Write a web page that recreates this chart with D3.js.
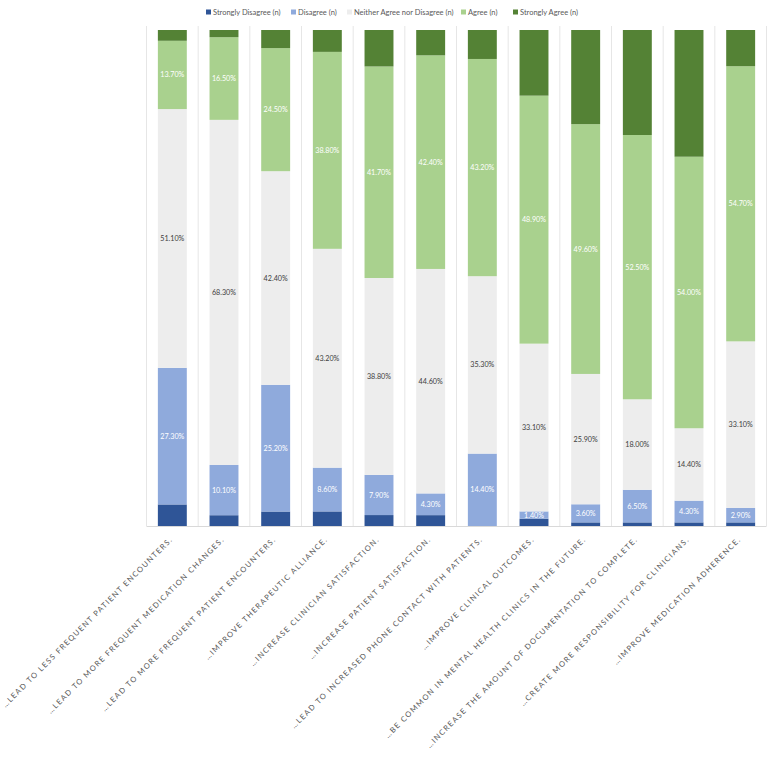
<!DOCTYPE html>
<html>
<head>
<meta charset="utf-8">
<script src="https://cdn.jsdelivr.net/npm/d3@7"></script>
<style>
  html, body { margin: 0; padding: 0; background: #fff; }
  svg { display: block; font-family: Lato, "Open Sans", "Liberation Sans", sans-serif; }
</style>
</head>
<body>
<svg id="chart" width="778" height="758"></svg>
<script>
const categories = [
  "…LEAD TO LESS FREQUENT PATIENT ENCOUNTERS.",
  "…LEAD TO MORE FREQUENT MEDICATION CHANGES.",
  "…LEAD TO MORE FREQUENT PATIENT ENCOUNTERS.",
  "…IMPROVE THERAPEUTIC ALLIANCE.",
  "…INCREASE CLINICIAN SATISFACTION.",
  "…INCREASE PATIENT SATISFACTION.",
  "…LEAD TO INCREASED PHONE CONTACT WITH PATIENTS.",
  "…IMPROVE CLINICAL OUTCOMES.",
  "…BE COMMON IN MENTAL HEALTH CLINICS IN THE FUTURE.",
  "…INCREASE THE AMOUNT OF DOCUMENTATION TO COMPLETE.",
  "…CREATE MORE RESPONSIBILITY FOR CLINICIANS.",
  "…IMPROVE MEDICATION ADHERENCE."
];
const seriesNames = ["Strongly Disagree (n)", "Disagree (n)", "Neither Agree nor Disagree (n)", "Agree (n)", "Strongly Agree (n)"];
// counts (n)
const stronglyDisagree = [6, 3, 4, 4, 3, 3, 0, 2, 1, 1, 1, 1];
const disagree         = [38, 14, 35, 12, 11, 6, 20, 2, 5, 9, 6, 4];
const neither          = [72, 96, 59, 60, 54, 62, 49, 46, 36, 25, 20, 46];
const agree            = [19, 23, 34, 54, 58, 59, 60, 68, 69, 73, 75, 76];
const stronglyAgree    = [3, 2, 5, 6, 10, 7, 8, 18, 26, 29, 35, 10];
// data labels (percent)
const disagreePct = [27.3, 10.1, 25.2, 8.6, 7.9, 4.3, 14.4, 1.4, 3.6, 6.5, 4.3, 2.9];
const neitherPct  = [51.1, 68.3, 42.4, 43.2, 38.8, 44.6, 35.3, 33.1, 25.9, 18.0, 14.4, 33.1];
const agreePct    = [13.7, 16.5, 24.5, 38.8, 41.7, 42.4, 43.2, 48.9, 49.6, 52.5, 54.0, 54.7];

const colors = ["#2F5597", "#8FAADC", "#EDEDED", "#A9D18E", "#548235"];
const labelColors = [null, "#ffffff", "#404040", "#ffffff", null];
const seriesVals = [stronglyDisagree, disagree, neither, agree, stronglyAgree];
const seriesPct = [null, disagreePct, neitherPct, agreePct, null];

const rows = categories.map((c, i) => {
  const r = { cat: c, i };
  seriesNames.forEach((s, k) => r[s] = seriesVals[k][i]);
  return r;
});
const stacked = d3.stack().keys(seriesNames).offset(d3.stackOffsetExpand)(rows);

const svg = d3.select("#chart");
const plotLeft = 146.5, plotRight = 766.5, plotTop = 30, plotBottom = 526;

const x = d3.scaleBand().domain(categories).range([plotLeft, plotRight]).paddingInner(0.44).paddingOuter(0.22);
const y = d3.scaleLinear().domain([0, 1]).range([plotBottom, plotTop]);

// vertical gridlines at category boundaries
const boundaries = d3.range(categories.length + 1).map(i => plotLeft + i * (plotRight - plotLeft) / categories.length);
svg.append("g").selectAll("line").data(boundaries).join("line")
  .attr("x1", d => d).attr("x2", d => d)
  .attr("y1", 26).attr("y2", plotBottom)
  .attr("stroke", "#e6e6e6").attr("stroke-width", 1);

// bars
const g = svg.append("g");
stacked.forEach((layer, k) => {
  g.append("g").attr("fill", colors[k]).selectAll("rect").data(layer).join("rect")
    .attr("x", d => x(d.data.cat))
    .attr("width", x.bandwidth())
    .attr("y", d => y(d[1]))
    .attr("height", d => Math.max(0, y(d[0]) - y(d[1])));
});

// data labels
stacked.forEach((layer, k) => {
  if (!seriesPct[k]) return;
  g.append("g").selectAll("text").data(layer).join("text")
    .attr("x", d => x(d.data.cat) + x.bandwidth() / 2)
    .attr("y", d => (y(d[0]) + y(d[1])) / 2)
    .attr("dy", "0.35em")
    .attr("text-anchor", "middle")
    .attr("font-size", 7.2)
    .attr("fill", labelColors[k])
    .text(d => seriesPct[k][d.data.i].toFixed(2) + "%");
});

// x axis
const xAxis = svg.append("g").attr("transform", `translate(0,${plotBottom})`)
  .call(d3.axisBottom(x).tickSize(0).tickPadding(0));
xAxis.select(".domain").attr("stroke", "#d9d9d9").attr("d", `M${plotLeft},0.5H${plotRight}`);
xAxis.selectAll(".tick text")
  .attr("font-size", 7.6)
  .attr("font-family", "Lato, 'Open Sans', sans-serif")
  .attr("letter-spacing", "1.3px")
  .attr("fill", "#595959")
  .attr("text-anchor", "end")
  .attr("dy", "0.35em")
  .attr("transform", "translate(-1,12) rotate(-45)")
  .attr("y", 0).attr("x", 0);

// legend
const legendX = [206, 291, 347, 461, 513];
const leg = svg.append("g");
seriesNames.forEach((s, k) => {
  leg.append("rect").attr("x", legendX[k]).attr("y", 9.5).attr("width", 5).attr("height", 5).attr("fill", colors[k]);
  leg.append("text").attr("x", legendX[k] + 7).attr("y", 12).attr("dy", "0.35em")
    .attr("font-size", 7.5).attr("fill", "#595959").text(s);
});
</script>
</body>
</html>
